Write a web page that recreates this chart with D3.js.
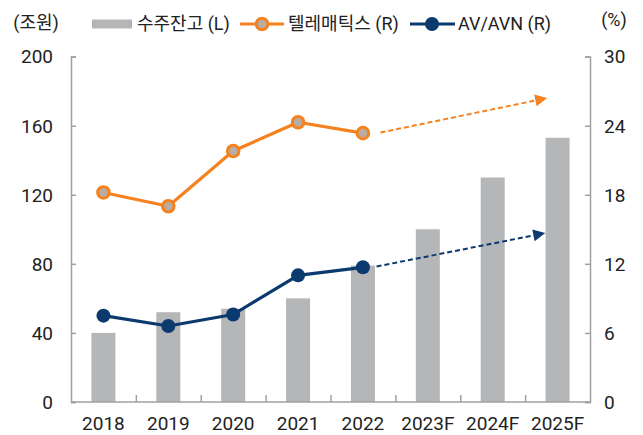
<!DOCTYPE html>
<html><head><meta charset="utf-8">
<script src="https://cdn.jsdelivr.net/npm/d3@7/dist/d3.min.js"></script>
<style>
html,body{margin:0;padding:0;background:#fff;}
text{font-family:Roboto,"Noto Sans CJK KR",sans-serif;fill:#222;}
</style></head>
<body>
<svg id="c" width="643" height="435"></svg>
<script>
// ---- data ----
const categories = ["2018","2019","2020","2021","2022","2023F","2024F","2025F"];
const backlog = [40, 52, 54, 60, 79, 100, 130, 153];          // 수주잔고 (L), 조원
const telematics = [18.2, 17.0, 21.8, 24.3, 23.35];          // 텔레매틱스 (R), %
const avavn = [7.5, 6.6, 7.6, 11.0, 11.7];                  // AV/AVN (R), %
const leftTicks = [0, 40, 80, 120, 160, 200];
const rightTicks = [0, 6, 12, 18, 24, 30];
const seriesNames = ["수주잔고 (L)", "텔레매틱스 (R)", "AV/AVN (R)"];
const leftUnit = "(조원)", rightUnit = "(%)";
// trend arrows: fractional category index & value (R axis)
const teleArrow = {x0: 4.27, v0: 23.4, x1: 6.84, v1: 26.4};
const avArrow = {x0: 4.21, v0: 11.77, x1: 6.81, v1: 14.67};

// ---- styles ----
const C = {bar:"#B5B6B8", orange:"#F5821F", orangeFill:"#B8ADA2", navy:"#0B3A6F", axis:"#A0A0A0"};
const M = {left:71, right:590, top:56.6, bottom:402};

const svg = d3.select("#c");
const x = d3.scaleBand().domain(categories).range([M.left, M.right]).paddingInner(0.63).paddingOuter(0.315);
const xi = d3.scaleLinear().domain([-0.5, categories.length - 0.5]).range([M.left, M.right]);
const yL = d3.scaleLinear().domain([0, 200]).range([M.bottom, M.top]);
const yR = d3.scaleLinear().domain([0, 30]).range([M.bottom, M.top]);

// bars
svg.append("g").selectAll("rect").data(backlog).join("rect")
  .attr("x", (d,i) => x(categories[i])).attr("width", x.bandwidth())
  .attr("y", d => yL(d)).attr("height", d => yL(0) - yL(d)).attr("fill", C.bar);

// axes
const gL = svg.append("g").attr("transform", `translate(${M.left},0)`)
  .call(d3.axisRight(yL).tickValues(leftTicks).tickSize(5).tickFormat(""));
const gR = svg.append("g").attr("transform", `translate(${M.right},0)`)
  .call(d3.axisLeft(yR).tickValues(rightTicks).tickSize(5).tickFormat(""));
const boundaries = d3.range(1, categories.length);
const gB = svg.append("g").attr("transform", `translate(0,${M.bottom})`)
  .call(d3.axisTop(xi).tickValues(boundaries.map(b => b - 0.5)).tickSize(7).tickFormat(""));
[gL, gR, gB].forEach(g => {
  g.select(".domain").attr("stroke", C.axis).attr("stroke-width", 1.5);
  g.selectAll(".tick line").attr("stroke", C.axis).attr("stroke-width", 1.5);
});
gB.select(".domain").attr("d", `M${M.left},0H${M.right}`);

// tick labels
svg.append("g").selectAll("text").data(leftTicks).join("text")
  .attr("x", 53).attr("y", d => yL(d)).attr("dy", "0.36em").attr("text-anchor", "end")
  .attr("font-size", 19).text(d => d);
svg.append("g").selectAll("text").data(rightTicks).join("text")
  .attr("x", 604).attr("y", d => yR(d)).attr("dy", "0.36em").attr("text-anchor", "start")
  .attr("font-size", 19).text(d => d);
svg.append("g").selectAll("text").data(categories).join("text")
  .attr("x", d => x(d) + x.bandwidth()/2).attr("y", 423).attr("dy", "0.36em").attr("text-anchor", "middle")
  .attr("font-size", 19).text(d => d);

// lines
const line = (ys) => d3.line().x((d,i) => x(categories[i]) + x.bandwidth()/2).y(d => ys(d));
svg.append("path").datum(telematics).attr("d", line(yR)).attr("fill","none")
  .attr("stroke", C.orange).attr("stroke-width", 3.2).attr("stroke-linejoin","round");
svg.append("g").selectAll("circle").data(telematics).join("circle")
  .attr("cx", (d,i) => x(categories[i]) + x.bandwidth()/2).attr("cy", d => yR(d)).attr("r", 5.8)
  .attr("fill", C.orangeFill).attr("stroke", C.orange).attr("stroke-width", 3);
svg.append("path").datum(avavn).attr("d", line(yR)).attr("fill","none")
  .attr("stroke", C.navy).attr("stroke-width", 3.2).attr("stroke-linejoin","round");
svg.append("g").selectAll("circle").data(avavn).join("circle")
  .attr("cx", (d,i) => x(categories[i]) + x.bandwidth()/2).attr("cy", d => yR(d)).attr("r", 7)
  .attr("fill", C.navy);

// arrows
function arrow(a, color) {
  const X0 = xi(a.x0), Y0 = yR(a.v0), X1 = xi(a.x1), Y1 = yR(a.v1);
  const ang = Math.atan2(Y1 - Y0, X1 - X0), L = 12, W = 6;
  const bx = X1 - L*Math.cos(ang), by = Y1 - L*Math.sin(ang);
  svg.append("line").attr("x1", X0).attr("y1", Y0).attr("x2", bx).attr("y2", by)
    .attr("stroke", color).attr("stroke-width", 2).attr("stroke-dasharray", "5,3");
  const px = -Math.sin(ang)*W, py = Math.cos(ang)*W;
  svg.append("path").attr("d", `M${X1},${Y1}L${bx+px},${by+py}L${bx-px},${by-py}Z`).attr("fill", color);
}
arrow(teleArrow, C.orange);
arrow(avArrow, C.navy);

// units
svg.append("text").attr("x", 36).attr("y", 23).attr("dy","0.36em").attr("text-anchor","middle").attr("font-size", 18).text(leftUnit);
svg.append("text").attr("x", 614).attr("y", 20).attr("dy","0.36em").attr("text-anchor","middle").attr("font-size", 18).text(rightUnit);

// legend
const ly = 24;
const lg = svg.append("g");
lg.append("rect").attr("x", 92).attr("y", ly - 4.5).attr("width", 40).attr("height", 9).attr("fill", C.bar);
lg.append("text").attr("x", 137).attr("y", ly).attr("dy","0.36em").attr("font-size", 18).text(seriesNames[0]);
lg.append("line").attr("x1", 240).attr("x2", 284).attr("y1", ly).attr("y2", ly).attr("stroke", C.orange).attr("stroke-width", 3.2);
lg.append("circle").attr("cx", 262).attr("cy", ly).attr("r", 5.8).attr("fill", C.orangeFill).attr("stroke", C.orange).attr("stroke-width", 3);
lg.append("text").attr("x", 288).attr("y", ly).attr("dy","0.36em").attr("font-size", 18).text(seriesNames[1]);
lg.append("line").attr("x1", 410).attr("x2", 455).attr("y1", ly).attr("y2", ly).attr("stroke", C.navy).attr("stroke-width", 3.2);
lg.append("circle").attr("cx", 432).attr("cy", ly).attr("r", 7).attr("fill", C.navy);
lg.append("text").attr("x", 458).attr("y", ly).attr("dy","0.36em").attr("font-size", 18).text(seriesNames[2]);
</script>
</body></html>
